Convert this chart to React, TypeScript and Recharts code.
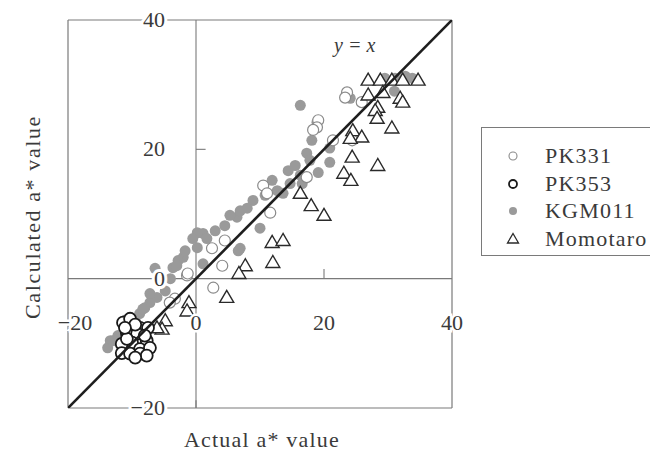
import React from "react";
import {
  ScatterChart,
  Scatter,
  XAxis,
  YAxis,
  ReferenceLine,
  ReferenceDot,
  Legend,
} from "recharts";

type Pt = { x: number; y: number };

const xTicks = [-20, 0, 20, 40];
const yTicks = [-20, 0, 20, 40];
const seriesNames = ["PK331", "PK353", "KGM011", "Momotaro"];

const pk331: Pt[] = [
  { x: 23.6, y: 28.8 }, { x: 23.3, y: 28.0 }, { x: 19.1, y: 24.5 }, { x: 18.9, y: 23.4 },
  { x: 25.9, y: 27.3 }, { x: 21.4, y: 21.4 }, { x: 24.4, y: 21.4 }, { x: 18.3, y: 23.0 },
  { x: 17.3, y: 15.7 }, { x: 10.5, y: 14.4 }, { x: 11.1, y: 13.2 }, { x: 11.6, y: 10.2 },
  { x: 4.5, y: 5.9 }, { x: 2.5, y: 4.7 }, { x: 4.1, y: 2.0 }, { x: -1.4, y: 0.5 },
  { x: 2.7, y: -1.4 }, { x: -3.3, y: -3.1 }, { x: -4.1, y: -3.7 }, { x: -1.3, y: 0.8 },
  { x: -11.0, y: -6.5 }, { x: -9.0, y: -9.5 },
];

const pk353: Pt[] = [
  { x: -11.4, y: -6.8 }, { x: -10.3, y: -6.2 }, { x: -8.75, y: -7.6 }, { x: -7.5, y: -7.6 },
  { x: -10.8, y: -8.4 }, { x: -9.2, y: -8.5 }, { x: -7.7, y: -9.6 }, { x: -10.0, y: -9.9 },
  { x: -11.6, y: -10.1 }, { x: -8.75, y: -10.9 }, { x: -7.2, y: -10.7 }, { x: -11.6, y: -11.5 },
  { x: -10.3, y: -11.6 }, { x: -8.75, y: -11.6 }, { x: -7.7, y: -11.9 }, { x: -10.8, y: -9.3 },
  { x: -9.5, y: -7.1 }, { x: -8.0, y: -8.8 }, { x: -11.1, y: -7.6 }, { x: -9.5, y: -12.2 },
];

const kgm011: Pt[] = [
  { x: 16.3, y: 26.8 }, { x: 18.9, y: 24.2 }, { x: 24.1, y: 27.9 }, { x: 31.1, y: 31.0 },
  { x: 32.7, y: 31.3 }, { x: 33.8, y: 31.0 }, { x: 29.5, y: 31.0 }, { x: 31.0, y: 29.0 },
  { x: 17.3, y: 19.4 }, { x: 20.9, y: 20.2 }, { x: 20.9, y: 18.0 }, { x: 19.1, y: 16.4 },
  { x: 16.3, y: 16.0 }, { x: 14.7, y: 14.7 }, { x: 12.7, y: 13.6 }, { x: 13.6, y: 13.2 },
  { x: 11.9, y: 15.2 }, { x: 16.6, y: 14.7 }, { x: 8.9, y: 12.1 }, { x: 8.0, y: 10.9 },
  { x: 6.4, y: 9.5 }, { x: 6.9, y: 10.5 }, { x: 10.0, y: 7.8 }, { x: 6.9, y: 4.7 },
  { x: 1.1, y: 7.0 }, { x: 0.2, y: 7.1 }, { x: -0.5, y: 6.2 }, { x: 1.7, y: 6.2 },
  { x: 0.2, y: 4.8 }, { x: -2.0, y: 3.3 }, { x: -2.8, y: 2.8 }, { x: -3.6, y: 1.7 },
  { x: -6.4, y: 1.6 }, { x: 1.1, y: 2.3 }, { x: -4.0, y: 0.0 }, { x: -3.0, y: 2.0 },
  { x: 6.6, y: 4.3 }, { x: -6.1, y: -2.9 }, { x: -7.2, y: -3.7 }, { x: -8.0, y: -4.5 },
  { x: -8.8, y: -5.4 }, { x: -13.4, y: -9.6 }, { x: -13.8, y: -10.7 }, { x: -13.0, y: -9.6 },
  { x: -7.2, y: -2.3 }, { x: -8.3, y: -4.7 }, { x: 10.8, y: 12.9 }, { x: 14.4, y: 16.7 },
  { x: 15.5, y: 17.5 }, { x: 17.8, y: 18.3 }, { x: 18.1, y: 21.4 }, { x: 4.5, y: 8.2 },
  { x: 3.0, y: 7.4 }, { x: 5.3, y: 9.8 }, { x: -1.7, y: 4.3 }, { x: -4.8, y: -1.9 },
  { x: -9.5, y: -6.5 }, { x: -11.1, y: -8.1 }, { x: -12.2, y: -8.8 },
];

const momotaro: Pt[] = [
  { x: 26.9, y: 30.7 }, { x: 28.8, y: 30.7 }, { x: 30.6, y: 30.7 }, { x: 32.3, y: 30.7 },
  { x: 34.7, y: 30.7 }, { x: 26.9, y: 28.4 }, { x: 29.2, y: 28.8 }, { x: 31.9, y: 27.9 },
  { x: 32.3, y: 27.3 }, { x: 28.4, y: 26.5 }, { x: 28.0, y: 26.0 }, { x: 28.3, y: 24.8 },
  { x: 30.6, y: 23.3 }, { x: 24.5, y: 22.9 }, { x: 25.9, y: 21.9 }, { x: 24.1, y: 21.7 },
  { x: 24.4, y: 18.8 }, { x: 28.4, y: 17.5 }, { x: 23.1, y: 16.3 }, { x: 24.2, y: 15.2 },
  { x: 16.3, y: 13.2 }, { x: 18.0, y: 11.3 }, { x: 20.0, y: 9.8 }, { x: 11.9, y: 5.6 },
  { x: 13.6, y: 5.9 }, { x: 12.0, y: 2.5 }, { x: 7.7, y: 2.0 }, { x: 6.7, y: 0.8 },
  { x: 4.8, y: -2.9 }, { x: -1.1, y: -3.7 }, { x: -1.4, y: -5.0 }, { x: -4.8, y: -6.5 },
  { x: -5.3, y: -7.8 }, { x: -6.1, y: -7.6 },
];

const identityLine: Pt[] = [
  { x: -20, y: -20 },
  { x: 40, y: 40 },
];

const FONT = "'Liberation Serif', 'DejaVu Serif', serif";
const TEXT = "#3a3a3a";
const FRAME = "#7a7a7a";

const W = 650;
const H = 449;

const OpenGrayCircle = (p: any) => (
  <circle cx={p.cx} cy={p.cy} r={5.5} fill="#fff" stroke="#8a8a8a" strokeWidth={1.2} />
);
const OpenBlackCircle = (p: any) => (
  <circle cx={p.cx} cy={p.cy} r={6} fill="#fff" stroke="#1a1a1a" strokeWidth={1.8} />
);
const FilledDot = (p: any) => (
  <circle cx={p.cx} cy={p.cy} r={5.5} fill="#9a9a9a" stroke="none" />
);
const Triangle = (p: any) => (
  <polygon
    points={`${p.cx},${p.cy - 7} ${p.cx - 7},${p.cy + 5} ${p.cx + 7},${p.cy + 5}`}
    fill="#fff"
    stroke="#2a2a2a"
    strokeWidth={1.4}
  />
);

const fmt = (v: number) => (v < 0 ? `\u2212${Math.abs(v)}` : `${v}`);

const XTick = (props: any) => {
  const { x, payload } = props;
  const v = payload.value;
  return (
    <text
      x={x + (v < 0 ? 7 : 0)}
      y={322}
      textAnchor="middle"
      fontFamily={FONT}
      fontSize={22}
      fill={TEXT}
      stroke="#fff"
      strokeWidth={5}
      paintOrder="stroke"
    >
      {fmt(v)}
    </text>
  );
};

const YTick = (props: any) => {
  const { y, payload } = props;
  const v = payload.value;
  return (
    <text
      x={157}
      y={y + 7}
      textAnchor="end"
      fontFamily={FONT}
      fontSize={22}
      fill={TEXT}
      stroke="#fff"
      strokeWidth={6}
      paintOrder="stroke"
    >
      {fmt(v)}
    </text>
  );
};

const legendItems = [
  { name: seriesNames[0], kind: "gray" },
  { name: seriesNames[1], kind: "black" },
  { name: seriesNames[2], kind: "filled" },
  { name: seriesNames[3], kind: "tri" },
];

const LegendMarker = ({ kind }: { kind: string }) => {
  if (kind === "gray")
    return <circle cx={8} cy={8} r={4} fill="#fff" stroke="#8a8a8a" strokeWidth={1.1} />;
  if (kind === "black")
    return <circle cx={8} cy={8} r={4} fill="#fff" stroke="#1a1a1a" strokeWidth={1.8} />;
  if (kind === "filled") return <circle cx={8} cy={8} r={4} fill="#9a9a9a" />;
  return <polygon points="8,2.5 2.5,12 13.5,12" fill="#fff" stroke="#2a2a2a" strokeWidth={1.3} />;
};

const LegendBox = () => (
  <div
    style={{
      width: 175,
      height: 129,
      border: `1px solid ${FRAME}`,
      boxSizing: "border-box",
      background: "#fff",
      position: "relative",
      fontFamily: FONT,
    }}
  >
    {legendItems.map((it, i) => (
      <div
        key={it.name}
        style={{
          position: "absolute",
          left: 23,
          top: 16 + i * 27.7,
          height: 24,
          display: "flex",
          alignItems: "center",
        }}
      >
        <svg width={16} height={16} style={{ display: "block" }}>
          <LegendMarker kind={it.kind} />
        </svg>
        <span
          style={{
            marginLeft: 24,
            fontSize: 22,
            color: TEXT,
            letterSpacing: 1.2,
            lineHeight: "24px",
          }}
        >
          {it.name}
        </span>
      </div>
    ))}
  </div>
);

export default function App() {
  return (
    <div style={{ width: W, height: H, position: "relative" }}>
      <ScatterChart
        width={W}
        height={H}
        margin={{ top: 12, right: 206, bottom: 48, left: 59 }}
      >
        <XAxis
          type="number"
          dataKey="x"
          domain={[-20, 40]}
          ticks={xTicks}
          height={1}
          axisLine={false}
          tickLine={false}
          tick={<XTick />}
          interval={0}
          allowDataOverflow
          label={{
            content: () => (
              <text
                x={254}
                y={439}
                textAnchor="middle"
                fontFamily={FONT}
                fontSize={22}
                letterSpacing={1.2}
                fill={TEXT}
              >
                Actual a* value
              </text>
            ),
          }}
        />
        <YAxis
          type="number"
          dataKey="y"
          domain={[-20, 40]}
          ticks={yTicks}
          width={1}
          axisLine={false}
          tickLine={false}
          tick={<YTick />}
          interval={0}
          allowDataOverflow
          label={{
            content: () => (
              <text
                x={24}
                y={209}
                transform="rotate(-90, 24, 209)"
                textAnchor="middle"
                dominantBaseline="central"
                fontFamily={FONT}
                fontSize={22}
                letterSpacing={1.6}
                fill={TEXT}
              >
                Calculated a* value
              </text>
            ),
          }}
        />
        <ReferenceLine x={-20} stroke={FRAME} strokeWidth={1.2} />
        <ReferenceLine x={40} stroke={FRAME} strokeWidth={1.2} />
        <ReferenceLine y={-20} stroke={FRAME} strokeWidth={1.2} />
        <ReferenceLine y={40} stroke={FRAME} strokeWidth={1.2} />
        <ReferenceLine x={0} stroke={FRAME} strokeWidth={1.1} />
        <ReferenceLine y={0} stroke={FRAME} strokeWidth={1.1} />
        <ReferenceLine
          segment={[{ x: 20, y: 0 }, { x: 20, y: 1.5 }]}
          stroke={FRAME}
          strokeWidth={1.1}
        />
        <ReferenceLine
          segment={[{ x: 0, y: -20 }, { x: 0, y: -18.8 }]}
          stroke={FRAME}
          strokeWidth={1.1}
        />
        <ReferenceLine
          segment={[{ x: 0, y: 20 }, { x: 1.5, y: 20 }]}
          stroke={FRAME}
          strokeWidth={1.1}
        />
        <ReferenceDot
          x={24.8}
          y={36.1}
          r={0}
          fill="none"
          stroke="none"
          label={{
            value: "y = x",
            position: "center",
            fontFamily: FONT,
            fontStyle: "italic",
            fontSize: 20,
            fill: TEXT,
          }}
        />
        <Scatter name="KGM011" data={kgm011} shape={FilledDot} isAnimationActive={false} />
        <Scatter name="PK331" data={pk331} shape={OpenGrayCircle} isAnimationActive={false} />
        <Scatter name="Momotaro" data={momotaro} shape={Triangle} isAnimationActive={false} />
        <Scatter name="PK353" data={pk353} shape={OpenBlackCircle} isAnimationActive={false} />
        <Scatter
          name="y = x"
          data={identityLine}
          line={{ stroke: "#1e1e1e", strokeWidth: 2.6 }}
          shape={() => null}
          legendType="none"
          isAnimationActive={false}
        />
        <Legend
          layout="vertical"
          align="center"
          verticalAlign="middle"
          content={() => <LegendBox />}
          wrapperStyle={{ left: 473, top: 119, width: 175, height: 129 }}
        />
      </ScatterChart>
    </div>
  );
}
